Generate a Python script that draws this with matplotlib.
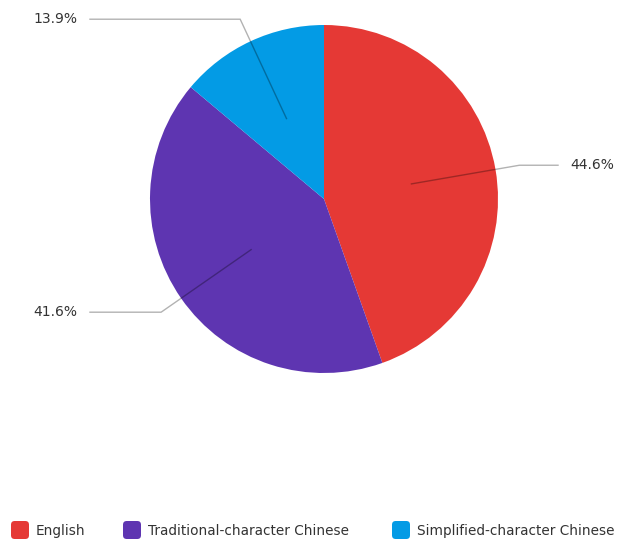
import matplotlib.pyplot as plt
import numpy as np
from matplotlib.patches import FancyBboxPatch

plt.rcParams['font.family'] = ['DejaVu Sans']

labels = ['English', 'Traditional-character Chinese', 'Simplified-character Chinese']
shares = [44.6, 41.6, 13.9]
colors = ['#E53935', '#5E35B1', '#039BE5']

W, H = 619, 542
R = 174.0
cx, cy = 324, 199

fig = plt.figure(figsize=(W / 100, H / 100), dpi=100)
ax = fig.add_axes([0, 0, 1, 1])

wedges, _ = ax.pie(shares, colors=colors, startangle=90, counterclock=False,
                   radius=1.0, center=(0, 0), frame=True,
                   wedgeprops=dict(linewidth=0))
# axes in units of pie radius, so the pie sits where it does in the picture
ax.set_xlim(-cx / R, (W - cx) / R)
ax.set_ylim(-(H - cy) / R, cy / R)
ax.set_aspect('equal')
ax.axis('off')

# leader lines + value labels
for w, v in zip(wedges, shares):
    ang = np.deg2rad((w.theta1 + w.theta2) / 2)
    x0, y0 = 0.51 * np.cos(ang), 0.51 * np.sin(ang)
    x1, y1 = 1.14 * np.cos(ang), 1.14 * np.sin(ang)
    side = 1 if np.cos(ang) > 0 else -1
    x2 = 1.345 * side
    ax.plot([x0, x1, x2], [y0, y1, y1], color='black', alpha=0.3, lw=1,
            solid_joinstyle='miter')
    ax.text(x2 + 0.07 * side, y1, f'{v}%', ha='left' if side > 0 else 'right',
            va='center', fontsize=10, color='#333333')

# legend at the bottom
leg_x = [11, 123, 392]
for x, lab, c in zip(leg_x, labels, colors):
    box = FancyBboxPatch((x / W, (H - 539) / H), 18 / W, 18 / H,
                         boxstyle='round,pad=0,rounding_size=0.006',
                         transform=fig.transFigure, facecolor=c, edgecolor='none',
                         mutation_aspect=W / H)
    fig.patches.append(box)
    fig.text((x + 25) / W, (H - 531) / H, lab, ha='left', va='center',
             fontsize=9.8, color='#333333')

fig.savefig('out.png', dpi=100)
